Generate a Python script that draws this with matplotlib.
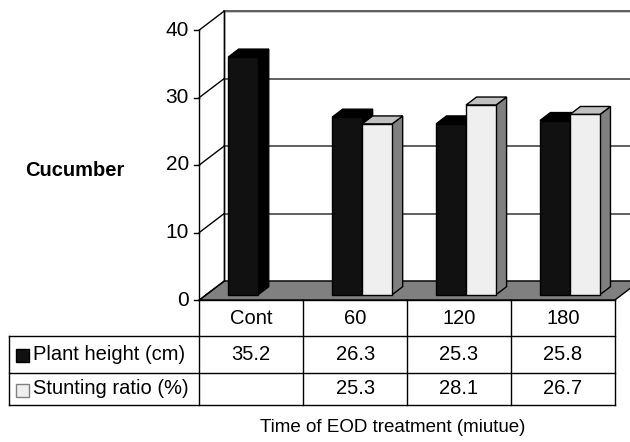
import matplotlib
matplotlib.use("Agg")
import matplotlib.pyplot as plt
from matplotlib.patches import Polygon

plt.rcParams['font.family'] = ['Liberation Sans', 'DejaVu Sans']

categories = ["Cont", "60", "120", "180"]
plant_height = [35.2, 26.3, 25.3, 25.8]
stunting_ratio = [None, 25.3, 28.1, 26.7]
series_names = ["Plant height (cm)", "Stunting ratio (%)"]
y_ticks = [0, 10, 20, 30, 40]
side_label = "Cucumber"
x_title = "Time of EOD treatment (miutue)"

# pixel layout of the pseudo-3D plot (front plane origin, category width, value scale)
W, H = 630, 442
PX0, PY0 = 199.3, 300.0
CAT_W = 103.9
VAL_H = 6.75
DX = 25 / CAT_W          # depth offset in category units
DY = 19 / VAL_H          # depth offset in value units
D0, D1 = 0.28, 0.70      # bar front/back depth
BAR_W = 0.289
GAP = (1 - 2 * BAR_W) / 2
YMAX = 40


def px_x(p):
    return (p - PX0) / CAT_W


def px_y(p):
    return (PY0 - p) / VAL_H


def proj(x, y, d):
    return (x + d * DX, y + d * DY)


fig = plt.figure(figsize=(W / 100, H / 100), dpi=100)
ax = fig.add_axes([0, 0, 1, 1])
ax.set_xlim(px_x(0), px_x(W))
ax.set_ylim(px_y(H), px_y(0))
ax.axis('off')

n = len(categories)
lw = 1.0

# back wall, floor and the left wall edges
back = [proj(0, 0, 1), proj(0, YMAX, 1), proj(n + 1, YMAX, 1), proj(n + 1, 0, 1)]
ax.add_patch(Polygon(back, closed=True, fc='white', ec='black', lw=lw, zorder=1))
floor = [proj(0, 0, 0), proj(n, 0, 0), proj(n, 0, 1), proj(0, 0, 1)]
ax.add_patch(Polygon(floor, closed=True, fc='#808080', ec='black', lw=lw, zorder=2))
for t in y_ticks[1:]:
    gx = [proj(0, t, 1)[0], proj(n + 1, t, 1)[0]]
    gy = [proj(0, t, 1)[1]] * 2
    ax.plot(gx, gy, color='#606060', lw=1.4, zorder=1.5)
for t in y_ticks:
    a, b = proj(0, t, 0), proj(0, t, 1)
    ax.plot([a[0], b[0]], [a[1], b[1]], color='black', lw=lw, zorder=3)
    ax.plot([a[0] - 5 / CAT_W, a[0]], [t, t], color='black', lw=lw, zorder=3)
    ax.text(px_x(189), t, str(t), ha='right', va='center', fontsize=15)
ax.plot([0, 0], [0, YMAX], color='black', lw=lw, zorder=3)
ax.plot([proj(0, 0, 1)[0]] * 2, [proj(0, 0, 1)[1], proj(0, YMAX, 1)[1]],
        color='black', lw=lw, zorder=1.6)

# bars
styles = [
    dict(front='#111111', top='#000000', side='#000000'),
    dict(front='#efefef', top='#c0c0c0', side='#808080'),
]
z = 4
for i in range(n):
    for s, vals in enumerate([plant_height, stunting_ratio]):
        v = vals[i]
        if v is None:
            continue
        xl = i + GAP + s * BAR_W
        xr = xl + BAR_W
        st = styles[s]
        front = [proj(xl, 0, D0), proj(xr, 0, D0), proj(xr, v, D0), proj(xl, v, D0)]
        top = [proj(xl, v, D0), proj(xr, v, D0), proj(xr, v, D1), proj(xl, v, D1)]
        side = [proj(xr, 0, D0), proj(xr, v, D0), proj(xr, v, D1), proj(xr, 0, D1)]
        for poly, fc in [(side, st['side']), (top, st['top']), (front, st['front'])]:
            ax.add_patch(Polygon(poly, closed=True, fc=fc, ec='black', lw=lw, zorder=z))
        z += 1

# data table
row_lines = [0, px_y(336), px_y(372.7), px_y(405.3)]
left = px_x(9)
ax.plot([0, n], [0, 0], color='black', lw=lw, zorder=20)
for r in row_lines[1:]:
    ax.plot([left, n], [r, r], color='black', lw=lw, zorder=20)
ax.plot([left, left], [row_lines[1], row_lines[3]], color='black', lw=lw, zorder=20)
for c in range(n + 1):
    ax.plot([c, c], [0, row_lines[3]], color='black', lw=lw, zorder=20)

fs = 14.5
for i, cat in enumerate(categories):
    cx = i + 0.5
    ax.text(cx, (row_lines[0] + row_lines[1]) / 2, cat, ha='center', va='center', fontsize=fs)
    for r, vals in enumerate([plant_height, stunting_ratio]):
        if vals[i] is not None:
            ax.text(cx, (row_lines[r + 1] + row_lines[r + 2]) / 2, f"{vals[i]:.1f}",
                    ha='center', va='center', fontsize=fs)

key_fc = ['#111111', '#efefef']
key_ec = ['black', '#808080']
ks = 13
for r, name in enumerate(series_names):
    cy = (row_lines[r + 1] + row_lines[r + 2]) / 2 - 1.5 / VAL_H
    ax.add_patch(Polygon([(px_x(16), cy - ks / 2 / VAL_H), (px_x(16 + ks), cy - ks / 2 / VAL_H),
                          (px_x(16 + ks), cy + ks / 2 / VAL_H), (px_x(16), cy + ks / 2 / VAL_H)],
                         closed=True, fc=key_fc[r], ec=key_ec[r], lw=lw, zorder=21))
    ax.text(px_x(33), cy + 1.5 / VAL_H, name, ha='left', va='center', fontsize=fs)

ax.text(px_x(75), px_y(170), side_label, ha='center', va='center',
        fontsize=14.5, fontweight='bold')
ax.text(px_x(393), px_y(428), x_title, ha='center', va='center', fontsize=13.5)

fig.savefig("out.png", dpi=100)
